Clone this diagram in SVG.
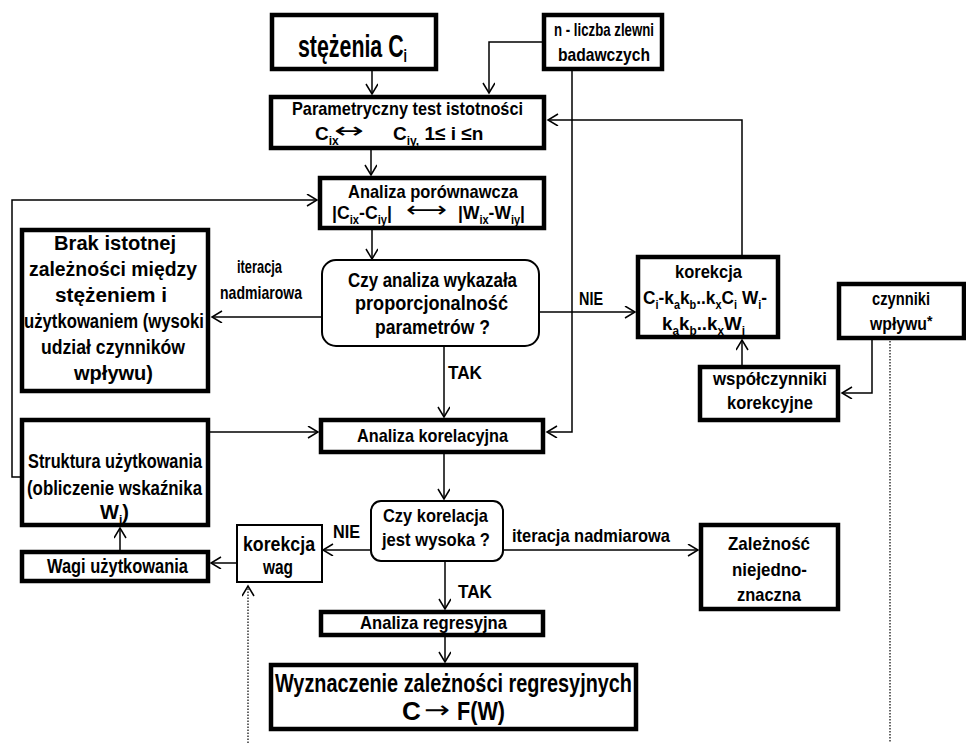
<svg xmlns="http://www.w3.org/2000/svg" width="966" height="743" viewBox="0 0 966 743">
<style>
text{font-family:"Liberation Sans Narrow","Liberation Sans",Arial,sans-serif;font-weight:bold;fill:#000;font-size:19px}
.b21{font-size:21px}
.b20{font-size:20px}
.box{fill:#fff;stroke:#000;stroke-width:4.5}
.thin{fill:#fff;stroke:#000;stroke-width:2}
.c{fill:none;stroke:#000;stroke-width:1.5}
.dot{fill:none;stroke:#000;stroke-width:1.2;stroke-dasharray:1.5 1.5}
.sub{font-size:12px;baseline-shift:-5px}
.arr{font-family:"DejaVu Sans","Liberation Sans",sans-serif;font-weight:normal}
</style>
<defs>
<marker id="ah" markerUnits="userSpaceOnUse" markerWidth="14" markerHeight="14" refX="11" refY="6" orient="auto">
<path d="M1,0 L11,6 L1,12" fill="none" stroke="#000" stroke-width="1.5"/>
</marker>
</defs>

<g id="connectors">
<path class="c" d="M372,70 V94" marker-end="url(#ah)"/>
<path class="c" d="M542,42 H489 V93" marker-end="url(#ah)"/>
<path class="c" d="M572,71 V432 H547" marker-end="url(#ah)"/>
<path class="c" d="M742,255 V120 H548" marker-end="url(#ah)"/>
<path class="c" d="M371,150 V175" marker-end="url(#ah)"/>
<path class="c" d="M20,477 H12 V200 H317" marker-end="url(#ah)"/>
<path class="c" d="M372,230 V259" marker-end="url(#ah)"/>
<path class="c" d="M322,317 H212" marker-end="url(#ah)"/>
<path class="c" d="M539,312 H635" marker-end="url(#ah)"/>
<path class="c" d="M444,346 V417" marker-end="url(#ah)"/>
<path class="c" d="M210,432 H318" marker-end="url(#ah)"/>
<path class="c" d="M872,340 V393 H842" marker-end="url(#ah)"/>
<path class="c" d="M742,365 V340" marker-end="url(#ah)"/>
<path class="dot" d="M890,341 V743"/>
<path class="c" d="M444,454 V499" marker-end="url(#ah)"/>
<path class="c" d="M371,550 H323" marker-end="url(#ah)"/>
<path class="c" d="M503,550 H698" marker-end="url(#ah)"/>
<path class="c" d="M445,561 V609" marker-end="url(#ah)"/>
<path class="c" d="M445,637 V662" marker-end="url(#ah)"/>
<path class="c" d="M237,563 H211" marker-end="url(#ah)"/>
<path class="c" d="M120,550 V528" marker-end="url(#ah)"/>
<path class="dot" d="M248,743 V586" marker-end="url(#ah)"/>
</g>

<g id="stezenia">
<rect class="box" x="272" y="15" width="164" height="54"/>
<text x="298" y="57" style="font-size:31px" textLength="109" lengthAdjust="spacingAndGlyphs">stężenia C<tspan style="font-size:18px;baseline-shift:-5px">i</tspan></text>
</g>

<g id="n-zlewni">
<rect class="box" x="544" y="15" width="118" height="54"/>
<text x="554" y="36" textLength="100" lengthAdjust="spacingAndGlyphs">n - liczba zlewni</text>
<text x="558" y="61" textLength="92" lengthAdjust="spacingAndGlyphs">badawczych</text>
</g>

<g id="test">
<rect class="box" x="271" y="97" width="273" height="51"/>
<text x="292" y="115" textLength="231" lengthAdjust="spacingAndGlyphs">Parametryczny test istotności</text>
<text x="315" y="140">C<tspan class="sub">ix</tspan></text>
<text class="arr" x="334" y="138" style="font-size:22px" textLength="30" lengthAdjust="spacingAndGlyphs">↔</text>
<text x="393" y="140">C<tspan class="sub">iy,</tspan> 1≤ i ≤n</text>
</g>

<g id="porownawcza">
<rect class="box" x="320" y="178" width="224" height="50"/>
<text x="348" y="198" textLength="170" lengthAdjust="spacingAndGlyphs">Analiza porównawcza</text>
<text x="332" y="219" textLength="60" lengthAdjust="spacingAndGlyphs">|C<tspan class="sub">ix</tspan>-C<tspan class="sub">iy</tspan>|</text>
<text class="arr" x="406" y="217" style="font-size:22px" textLength="41" lengthAdjust="spacingAndGlyphs">⟷</text>
<text x="458" y="219" textLength="67" lengthAdjust="spacingAndGlyphs">|W<tspan class="sub">ix</tspan>-W<tspan class="sub">iy</tspan>|</text>
</g>

<g id="decyzja1">
<rect class="thin" x="322" y="260" width="217" height="86" rx="14"/>
<text class="b20" x="348" y="287" textLength="169" lengthAdjust="spacingAndGlyphs">Czy analiza wykazała</text>
<text class="b20" x="355" y="310" textLength="153" lengthAdjust="spacingAndGlyphs">proporcjonalność</text>
<text class="b20" x="375" y="334" textLength="115" lengthAdjust="spacingAndGlyphs">parametrów ?</text>
</g>

<g id="labels1">
<text x="579" y="305" textLength="24" lengthAdjust="spacingAndGlyphs">NIE</text>
<text x="448" y="379" textLength="34" lengthAdjust="spacingAndGlyphs">TAK</text>
<text x="237" y="273" textLength="45" lengthAdjust="spacingAndGlyphs">iteracja</text>
<text x="220" y="299" textLength="82" lengthAdjust="spacingAndGlyphs">nadmiarowa</text>
</g>

<g id="brak">
<rect class="box" x="22" y="230" width="186" height="161"/>
<text class="b20" x="54" y="250" textLength="122" lengthAdjust="spacingAndGlyphs">Brak istotnej</text>
<text class="b20" x="29" y="276" textLength="168" lengthAdjust="spacingAndGlyphs">zależności między</text>
<text class="b20" x="55" y="302" textLength="112" lengthAdjust="spacingAndGlyphs">stężeniem i</text>
<text class="b20" x="24" y="328" textLength="180" lengthAdjust="spacingAndGlyphs">użytkowaniem (wysoki</text>
<text class="b20" x="41" y="354" textLength="144" lengthAdjust="spacingAndGlyphs">udział czynników</text>
<text class="b20" x="74" y="380" textLength="79" lengthAdjust="spacingAndGlyphs">wpływu)</text>
</g>

<g id="korekcja">
<rect class="box" x="638" y="257" width="140" height="80"/>
<text x="675" y="278" textLength="67" lengthAdjust="spacingAndGlyphs">korekcja</text>
<text x="643" y="304" textLength="124" lengthAdjust="spacingAndGlyphs">C<tspan class="sub">i</tspan>-k<tspan class="sub">a</tspan>k<tspan class="sub">b</tspan>..k<tspan class="sub">x</tspan>C<tspan class="sub">i</tspan> W<tspan class="sub">i</tspan>-</text>
<text x="662" y="330" textLength="83" lengthAdjust="spacingAndGlyphs">k<tspan class="sub">a</tspan>k<tspan class="sub">b</tspan>..k<tspan class="sub">x</tspan>W<tspan class="sub">i</tspan></text>
</g>

<g id="czynniki">
<rect class="box" x="839" y="284" width="125" height="54"/>
<text x="872" y="305" textLength="58" lengthAdjust="spacingAndGlyphs">czynniki</text>
<text x="870" y="330" textLength="57" lengthAdjust="spacingAndGlyphs">wpływu</text>
<text x="927" y="326" style="font-size:14px">*</text>
</g>

<g id="wspolczynniki">
<rect class="box" x="700" y="367" width="138" height="53"/>
<text x="713" y="385" textLength="114" lengthAdjust="spacingAndGlyphs">współczynniki</text>
<text x="727" y="409" textLength="86" lengthAdjust="spacingAndGlyphs">korekcyjne</text>
</g>

<g id="korelacyjna">
<rect class="box" x="321" y="420" width="222" height="32"/>
<text x="357" y="442" textLength="151" lengthAdjust="spacingAndGlyphs">Analiza korelacyjna</text>
</g>

<g id="struktura">
<rect class="box" x="22" y="420" width="186" height="105"/>
<text class="b20" x="28" y="468" textLength="174" lengthAdjust="spacingAndGlyphs">Struktura użytkowania</text>
<text class="b20" x="27" y="495" textLength="175" lengthAdjust="spacingAndGlyphs">(obliczenie wskaźnika</text>
<text class="b20" x="100" y="519">W<tspan class="sub">i</tspan>)</text>
</g>

<g id="wagi">
<rect class="box" x="22" y="552" width="186" height="29"/>
<text class="b20" x="47" y="573" textLength="141" lengthAdjust="spacingAndGlyphs">Wagi użytkowania</text>
</g>

<g id="korekcja-wag">
<rect class="thin" x="237" y="525" width="85" height="57"/>
<text class="b20" x="243" y="551" textLength="72" lengthAdjust="spacingAndGlyphs">korekcja</text>
<text class="b20" x="263" y="574" textLength="30" lengthAdjust="spacingAndGlyphs">wag</text>
</g>

<g id="decyzja2">
<rect class="thin" x="371" y="501" width="132" height="60" rx="10"/>
<text x="383" y="522" textLength="105" lengthAdjust="spacingAndGlyphs">Czy korelacja</text>
<text x="382" y="546" textLength="108" lengthAdjust="spacingAndGlyphs">jest wysoka ?</text>
</g>

<g id="labels2">
<text x="333" y="538" textLength="27" lengthAdjust="spacingAndGlyphs">NIE</text>
<text x="512" y="542" textLength="158" lengthAdjust="spacingAndGlyphs">iteracja nadmiarowa</text>
<text x="458" y="598" textLength="34" lengthAdjust="spacingAndGlyphs">TAK</text>
</g>

<g id="zaleznosc">
<rect class="box" x="701" y="525" width="137" height="84"/>
<text x="728" y="550" textLength="82" lengthAdjust="spacingAndGlyphs">Zależność</text>
<text x="732" y="576" textLength="75" lengthAdjust="spacingAndGlyphs">niejedno-</text>
<text x="737" y="601" textLength="64" lengthAdjust="spacingAndGlyphs">znaczna</text>
</g>

<g id="regresyjna">
<rect class="box" x="321" y="612" width="222" height="23"/>
<text x="360" y="629" textLength="147" lengthAdjust="spacingAndGlyphs">Analiza regresyjna</text>
</g>

<g id="wyznaczenie">
<rect class="box" x="271" y="665" width="365" height="64"/>
<text x="275" y="692" style="font-size:26px" textLength="357" lengthAdjust="spacingAndGlyphs">Wyznaczenie zależności regresyjnych</text>
<text x="402" y="720" style="font-size:26px">C</text>
<text class="arr" x="424" y="718" style="font-size:24px" textLength="26" lengthAdjust="spacingAndGlyphs">→</text>
<text x="457" y="720" style="font-size:26px" textLength="48" lengthAdjust="spacingAndGlyphs">F(W)</text>
</g>
</svg>
